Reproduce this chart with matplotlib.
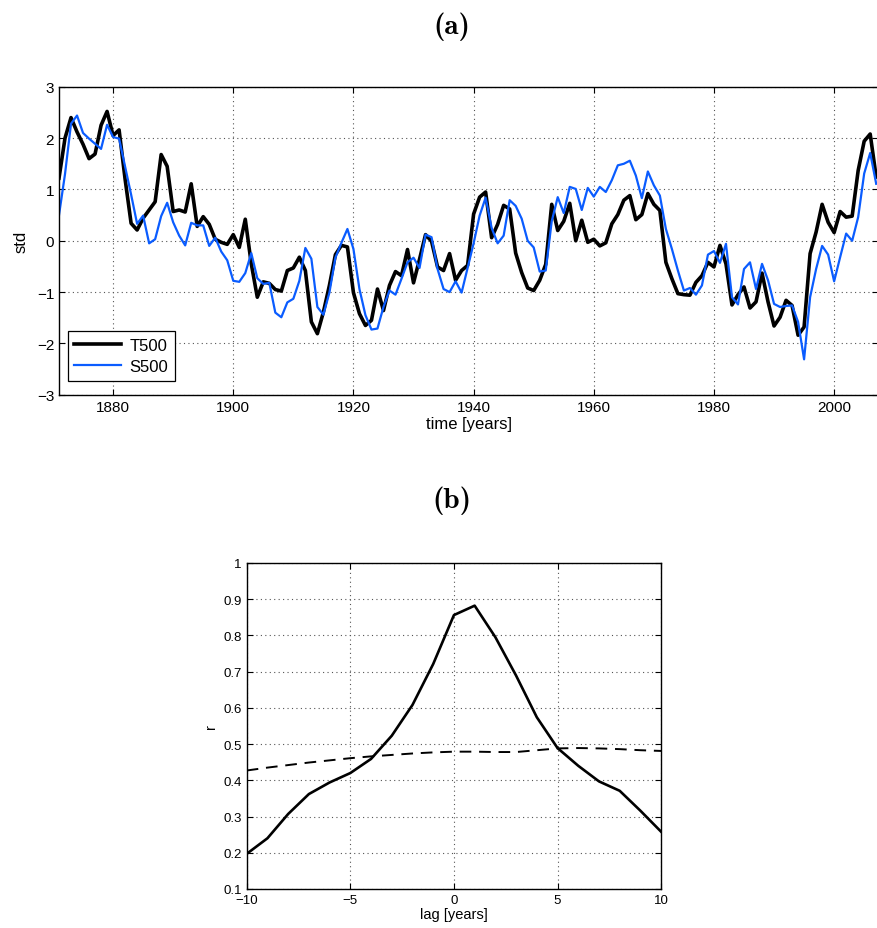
import os
import numpy as np
import matplotlib
matplotlib.use("Agg")
from matplotlib import pyplot as plt
from matplotlib.font_manager import FontProperties

plt.rcParams['font.family'] = ['Liberation Sans', 'DejaVu Sans']

# annual index, standardised
years = np.arange(1871, 2008)
t500 = [1.22, 2.0, 2.4, 2.12, 1.88, 1.6, 1.69, 2.25, 2.52, 2.05,
        2.16, 1.2, 0.34, 0.21, 0.44, 0.6, 0.76, 1.68, 1.45, 0.57,
        0.6, 0.56, 1.11, 0.28, 0.47, 0.32, 0.03, -0.03, -0.07, 0.12,
        -0.13, 0.42, -0.45, -1.1, -0.8, -0.83, -0.95, -0.98, -0.58, -0.53,
        -0.32, -0.58, -1.58, -1.81, -1.39, -0.87, -0.27, -0.09, -0.12, -1.01,
        -1.42, -1.65, -1.55, -0.94, -1.36, -0.87, -0.6, -0.68, -0.17, -0.82,
        -0.36, 0.12, -0.01, -0.51, -0.58, -0.25, -0.77, -0.58, -0.48, 0.52,
        0.85, 0.95, 0.06, 0.32, 0.69, 0.62, -0.24, -0.62, -0.92, -0.97,
        -0.77, -0.46, 0.71, 0.2, 0.38, 0.73, 0.0, 0.4, -0.03, 0.03,
        -0.1, -0.04, 0.33, 0.51, 0.79, 0.88, 0.41, 0.51, 0.92, 0.71,
        0.59, -0.42, -0.74, -1.03, -1.05, -1.06, -0.81, -0.68, -0.42, -0.51,
        -0.09, -0.45, -1.25, -1.05, -0.9, -1.31, -1.19, -0.63, -1.19, -1.66,
        -1.49, -1.16, -1.26, -1.84, -1.68, -0.25, 0.17, 0.71, 0.36, 0.16,
        0.57, 0.46, 0.48, 1.37, 1.94, 2.08, 1.24]
s500 = [0.5, 1.3, 2.28, 2.44, 2.1, 1.99, 1.89, 1.79, 2.26, 2.02,
        1.99, 1.45, 0.9, 0.33, 0.49, -0.05, 0.03, 0.48, 0.74, 0.36,
        0.1, -0.09, 0.35, 0.3, 0.3, -0.1, 0.06, -0.21, -0.38, -0.78,
        -0.8, -0.63, -0.24, -0.73, -0.84, -0.82, -1.4, -1.49, -1.2, -1.13,
        -0.78, -0.14, -0.35, -1.29, -1.44, -1.01, -0.33, -0.04, 0.23, -0.16,
        -0.94, -1.45, -1.73, -1.71, -1.29, -0.97, -1.05, -0.74, -0.42, -0.33,
        -0.53, 0.12, 0.07, -0.55, -0.94, -1.0, -0.79, -1.01, -0.53, -0.05,
        0.49, 0.84, 0.25, -0.05, 0.1, 0.79, 0.68, 0.43, 0.0, -0.13,
        -0.6, -0.58, 0.38, 0.85, 0.54, 1.05, 1.01, 0.6, 1.03, 0.86,
        1.05, 0.95, 1.18, 1.47, 1.5, 1.56, 1.27, 0.83, 1.35, 1.08,
        0.88, 0.23, -0.16, -0.58, -0.97, -0.92, -1.05, -0.87, -0.27, -0.2,
        -0.43, -0.06, -1.1, -1.24, -0.55, -0.42, -0.94, -0.45, -0.77, -1.23,
        -1.29, -1.27, -1.26, -1.58, -2.31, -1.1, -0.55, -0.1, -0.27, -0.79,
        -0.32, 0.14, 0.0, 0.46, 1.31, 1.71, 1.11]

# lagged correlation and significance level
lags = np.arange(-10, 11)
r_lag = [0.197, 0.24, 0.307, 0.362, 0.394, 0.42, 0.459, 0.523, 0.608, 0.721,
         0.856, 0.882, 0.795, 0.689, 0.574, 0.489, 0.44, 0.397, 0.371, 0.316,
         0.258]
r_sig = [0.427, 0.435, 0.442, 0.449, 0.455, 0.461, 0.466, 0.47, 0.474, 0.477,
         0.479, 0.479, 0.478, 0.478, 0.483, 0.488, 0.489, 0.488, 0.486, 0.483,
         0.481]

blue = '#0a5cff'
grid_kw = dict(color='#555555', linestyle=(0, (1, 3)), linewidth=0.8)

# Computer Modern bold ships with matplotlib
cmb = os.path.join(matplotlib.get_data_path(), 'fonts', 'ttf', 'cmb10.ttf')
title_font = FontProperties(fname=cmb, size=21)


def matlab_axes(ax, size):
    ax.tick_params(direction='in', top=True, right=True, labelsize=size,
                   length=4, width=0.8)
    for sp in ax.spines.values():
        sp.set_linewidth(1.0)
    ax.grid(True, **grid_kw)


fig = plt.figure(figsize=(8.78, 9.29), dpi=100)

ax1 = fig.add_axes([0.0672, 0.574, 0.9328, 0.3315])
ax1.plot(years, t500, color='black', lw=2.6, label='T500')
ax1.plot(years, s500, color=blue, lw=1.6, label='S500')
ax1.set_xlim(1871, 2007.3)
ax1.set_ylim(-3, 3)
ax1.set_xticks([1880, 1900, 1920, 1940, 1960, 1980, 2000])
ax1.set_yticks([-3, -2, -1, 0, 1, 2, 3])
ax1.set_yticklabels(['\u22123', '\u22122', '\u22121', '0', '1', '2', '3'])
matlab_axes(ax1, 11)
ax1.spines['right'].set_visible(False)
ax1.set_xlabel('time [years]', fontsize=12, labelpad=2)
ax1.set_ylabel('std', fontsize=12, labelpad=6)
leg = ax1.legend(loc='lower left', bbox_to_anchor=(0.0106, 0.046),
                 borderaxespad=0, fontsize=12, fancybox=False,
                 framealpha=1, edgecolor='black', handlelength=2.8,
                 borderpad=0.4, labelspacing=0.35, handletextpad=0.5)
leg.get_frame().set_linewidth(0.9)

ax2 = fig.add_axes([0.281, 0.042, 0.472, 0.351])
ax2.plot(lags, r_lag, color='black', lw=1.9)
ax2.plot(lags, r_sig, color='black', lw=1.4, linestyle=(0, (6, 4)))
ax2.set_xlim(-10, 10)
ax2.set_ylim(0.1, 1)
ax2.set_xticks([-10, -5, 0, 5, 10])
ax2.set_xticklabels(['\u221210', '\u22125', '0', '5', '10'])
ax2.set_yticks(np.round(np.arange(0.1, 1.01, 0.1), 1))
ax2.set_yticklabels(['0.1', '0.2', '0.3', '0.4', '0.5', '0.6', '0.7',
                     '0.8', '0.9', '1'])
matlab_axes(ax2, 9.5)
ax2.set_xlabel('lag [years]', fontsize=10.5, labelpad=1)
ax2.set_ylabel('r', fontsize=10.5, labelpad=4)

fig.text(0.515, 0.971, '(a)', ha='center', va='center', fontproperties=title_font)
fig.text(0.515, 0.461, '(b)', ha='center', va='center', fontproperties=title_font)

fig.savefig('out.png', dpi=100)
